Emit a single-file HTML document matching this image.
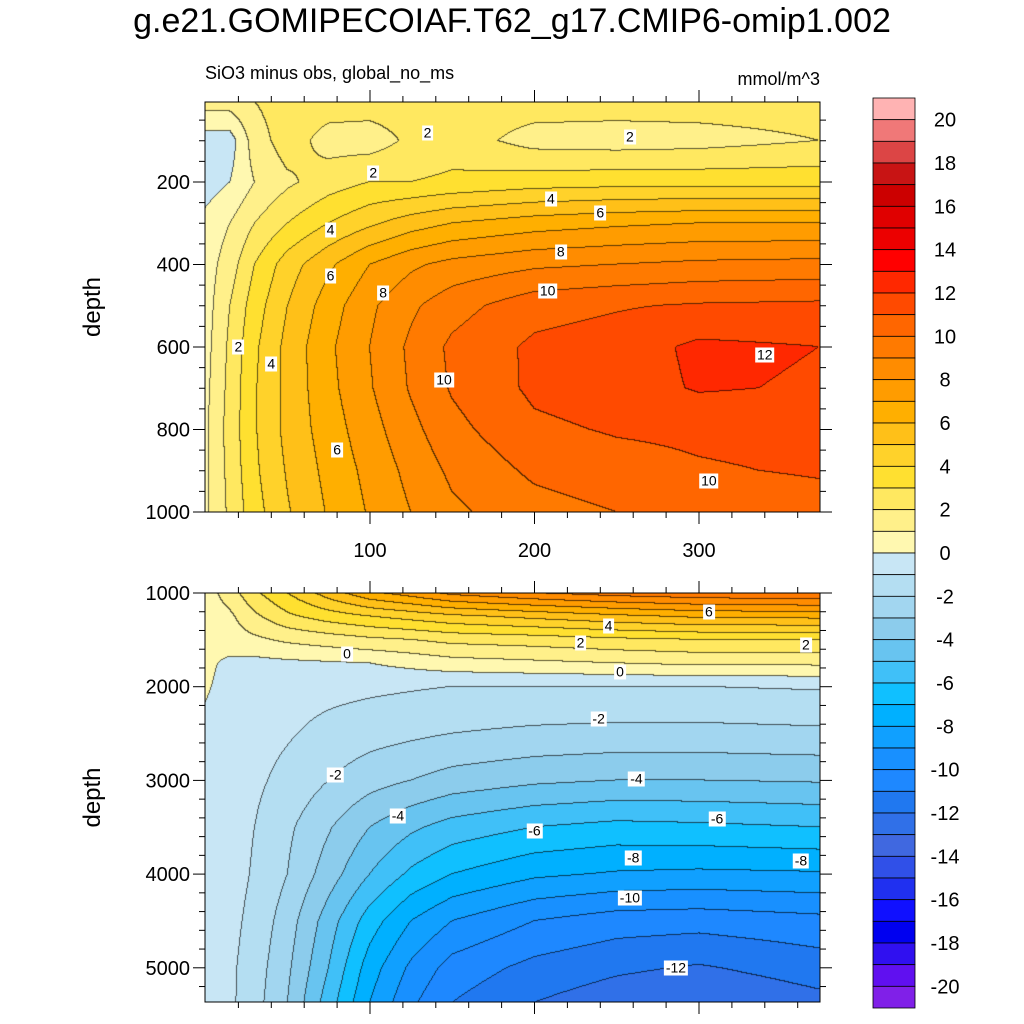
<!DOCTYPE html>
<html><head><meta charset="utf-8">
<style>
html,body{margin:0;padding:0;background:#fff;}
body{width:1024px;height:1024px;position:relative;overflow:hidden;font-family:"Liberation Sans",sans-serif;color:#000;}
.abs{position:absolute;}
.lbl{position:absolute;background:#fff;font-size:14px;padding:0 2px;line-height:15px;transform:translate(-50%,-50%);}
</style></head>
<body>
<div class="abs" style="left:0;width:1024px;top:2px;text-align:center;font-size:34px;">g.e21.GOMIPECOIAF.T62_g17.CMIP6-omip1.002</div>
<div class="abs" style="left:205px;top:63px;font-size:18px;">SiO3 minus obs, global_no_ms</div>
<div class="abs" style="left:700px;width:120px;text-align:right;top:69px;font-size:18px;">mmol/m^3</div>
<canvas id="cv" width="1024" height="1024" class="abs" style="left:0;top:0"></canvas>
<svg id="sv" width="1024" height="1024" class="abs" style="left:0;top:0"></svg>
<div id="labels"></div>
<script>
// ---- data ----
const levels = [-20,-19,-18,-17,-16,-15,-14,-13,-12,-11,-10,-9,-8,-7,-6,-5,-4,-3,-2,-1,0,1,2,3,4,5,6,7,8,9,10,11,12,13,14,15,16,17,18,19,20];
const colors = ["#8020e8","#6010f0","#3010f0","#0000f0","#1010ff","#2030f0","#3050e8","#4068e0","#3070e8","#2078f0","#1e88ff","#1890ff","#10a0ff","#00b0ff","#10c0ff","#40c0f8","#68c4f0","#8cccec","#a2d6f0","#b4def2","#c8e6f5","#fff8b0","#fff08a","#ffe860","#ffe030","#ffd22a","#ffc018","#ffaf00","#ff9c00","#ff8c00","#ff7a00","#ff6600","#ff4a00","#ff2800","#ff0000","#ec0000","#e00000","#cc0000","#c81414","#dc4545","#f07878","#ffb3b3"];
const xs = [0,15,30,50,75,100,125,150,200,250,300,373];
const topDepths = [5,100,200,300,400,500,600,700,800,900,1000];
const topVals = [
 [1.5,1.5,2,2.5,2.5,2.5,2.5,2.5,2.5,2.5,2.5,2.5],
 [-0.5,-0.5,1.5,2.5,1.6,1.5,2.2,2.5,1.6,1.5,1.6,2],
 [-0.5,0,1,1.8,2.5,3,3,3.2,3.5,3.6,3.6,3.6],
 [0.3,1,2,3,4,4.8,5.5,6,6.5,6.8,7,7],
 [0.5,1.5,3,4.5,5.8,7,7.8,8.3,8.8,9,9.2,9.3],
 [0.5,2,3.5,5,6.5,7.8,8.8,9.6,10.6,10.9,11.1,11.2],
 [0.6,2.2,3.8,5.3,6.8,8,9.2,10.2,11.2,11.5,12.2,12],
 [0.7,2.3,3.9,5.3,6.7,7.9,9.1,10.1,11.2,11.5,12.1,11.9],
 [0.8,2.4,3.9,5.3,6.5,7.6,8.7,9.7,10.8,11.1,11.2,11.3],
 [0.8,2.3,3.8,5.1,6.3,7.3,8.3,9.2,10.2,10.6,10.9,11.1],
 [0.8,2.2,3.6,4.9,6.1,7.1,8.0,8.8,9.6,10,10.3,10.6]];
const botDepths = [1000,1250,1500,1750,2000,2500,3000,3500,4000,4500,5000,5370];
const botVals = [
 [0.5,1.5,2.8,4,5.5,6.8,7.5,8.3,9,9.5,9.8,10],
 [0.3,0.8,1.8,2.8,3.5,4,4.4,4.8,5.3,5.8,6.2,6.3],
 [0.2,0.5,0.8,1.2,1.5,1.8,2,2.3,2.5,2.8,3,3],
 [0.2,-0.2,-0.3,-0.2,-0.1,0,0.3,0.6,0.8,1,1.2,1.2],
 [0.1,-0.3,-0.5,-0.6,-0.7,-0.8,-0.9,-1,-1,-1,-1,-0.9],
 [-0.2,-0.4,-0.6,-0.9,-1.3,-1.6,-1.8,-2,-2.2,-2.3,-2.3,-2.2],
 [-0.3,-0.5,-0.8,-1.3,-2,-2.6,-3,-3.4,-3.8,-4,-4,-3.9],
 [-0.3,-0.6,-1,-1.8,-2.9,-4,-4.8,-5.4,-6,-6.3,-6.2,-6],
 [-0.3,-0.6,-1.1,-2,-3.5,-5,-6.2,-7,-7.8,-8.1,-8.2,-8.1],
 [-0.4,-0.7,-1.3,-2.5,-4.5,-6.5,-8,-9,-10,-10.5,-10.6,-10.3],
 [-0.5,-0.8,-1.5,-2.8,-5,-7.5,-9.2,-10.4,-11.3,-11.8,-12.1,-11.5],
 [-0.5,-0.8,-1.6,-3,-5.5,-8,-9.8,-11,-12,-12.6,-13,-12.3]];
const xTicks = [100,200,300];
const topYTicks = [200,400,600,800,1000];
const botYTicks = [1000,2000,3000,4000,5000];
const cbLabels = [20,18,16,14,12,10,8,6,4,2,0,-2,-4,-6,-8,-10,-12,-14,-16,-18,-20];
const topLabels = [[20,600,"2"],[40,640,"4"],[80,850,"6"],[145,680,"10"],[76,317,"4"],[76,427,"6"],[108,468,"8"],[102,178,"2"],[210,240,"4"],[240,275,"6"],[216,370,"8"],[208,465,"10"],[135,80,"2"],[258,90,"2"],[340,620,"12"],[306,925,"10"]];
const botLabels = [[306,1200,"6"],[245,1350,"4"],[228,1530,"2"],[365,1550,"2"],[86,1650,"0"],[252,1840,"0"],[239,2350,"-2"],[79,2940,"-2"],[117,3380,"-4"],[262,2990,"-4"],[200,3540,"-6"],[311,3410,"-6"],[260,3830,"-8"],[362,3860,"-8"],[258,4260,"-10"],[286,5000,"-12"]];

// ---- axes ----
const X0=205.5, XS=1.645, PL=205, PR=820;
const xp = v => X0 + v*XS;
const yTop = d => 99.5 + d*0.4125;
const yBot = d => 593 + (d-1000)*0.0937;
const panels = [
 {top:102,bot:512,depths:topDepths,vals:topVals,yf:yTop,inv:y=>(y-99.5)/0.4125,yt:topYTicks,minor:50,dmin:5,dmax:1000,lab:topLabels},
 {top:593,bot:1002,depths:botDepths,vals:botVals,yf:yBot,inv:y=>(y-593)/0.0937+1000,yt:botYTicks,minor:200,dmin:1000,dmax:5370,lab:botLabels}];

function interp(p,x,d){
  let i=0; while(i<xs.length-2 && x>xs[i+1]) i++;
  let j=0; while(j<p.depths.length-2 && d>p.depths[j+1]) j++;
  let tx=Math.min(1,Math.max(0,(x-xs[i])/(xs[i+1]-xs[i])));
  let ty=Math.min(1,Math.max(0,(d-p.depths[j])/(p.depths[j+1]-p.depths[j])));
  const v=p.vals;
  return (v[j][i]*(1-tx)+v[j][i+1]*tx)*(1-ty)+(v[j+1][i]*(1-tx)+v[j+1][i+1]*tx)*ty;
}
function bin(v){ let k=0; while(k<levels.length && v>=levels[k]) k++; return k; }
function hex(c){return [parseInt(c.substr(1,2),16),parseInt(c.substr(3,2),16),parseInt(c.substr(5,2),16)];}
const rgb = colors.map(hex);

const cv=document.getElementById('cv'), ctx=cv.getContext('2d');
const img=ctx.createImageData(1024,1024);
panels.forEach(p=>{
  const W=PR-PL, H=p.bot-p.top;
  const B=[];
  for(let y=0;y<H;y++){ B.push([]);
    const d=p.inv(p.top+y+0.5);
    for(let x=0;x<W;x++){ const xv=(PL+x+0.5-X0)/XS; B[y].push(bin(interp(p,xv,d))); } }
  for(let y=0;y<H;y++) for(let x=0;x<W;x++){
    let c=rgb[B[y][x]];
    const edge=(x+1<W&&B[y][x+1]!==B[y][x])||(y+1<H&&B[y+1][x]!==B[y][x]);
    if(edge) c=[Math.round(c[0]*0.35),Math.round(c[1]*0.35),Math.round(c[2]*0.35)];
    const o=((p.top+y)*1024+PL+x)*4;
    img.data[o]=c[0];img.data[o+1]=c[1];img.data[o+2]=c[2];img.data[o+3]=255;
  }
});
ctx.putImageData(img,0,0);

const NS="http://www.w3.org/2000/svg", sv=document.getElementById('sv');
function el(tag,attrs,txt){const e=document.createElementNS(NS,tag);for(const k in attrs)e.setAttribute(k,attrs[k]);if(txt!==undefined)e.textContent=txt;sv.appendChild(e);return e;}
function line(x1,y1,x2,y2,w){const e=el('line',{x1,y1,x2,y2,stroke:'#000','stroke-width':w||1});
  
  }
panels.forEach((p,pi)=>{
  const r=el('rect',{x:PL,y:p.top,width:PR-PL,height:p.bot-p.top,fill:'none',stroke:'#000','stroke-width':1});
  
  
  for(let v=20;v<373;v+=20){const x=xp(v), L=(v%100===0)?12:6;
    line(x,p.bot,x,p.bot+L); line(x,p.top,x,p.top-L);}
  for(let d=Math.ceil(p.dmin/p.minor)*p.minor; d<=p.dmax; d+=p.minor){const y=p.yf(d);
    if(y<p.top-0.5||y>p.bot+0.5) continue;
    const L=p.yt.includes(d)?12:6; line(PL,y,PL-L,y); line(PR,y,PR+L,y);}
  p.yt.forEach(d=>{const t=el('text',{x:PL-15,y:p.yf(d)+7,'text-anchor':'end','font-size':20,'font-family':'Liberation Sans'},String(d));
    
    });
  const t=el('text',{x:0,y:0,transform:`translate(100,${(p.top+p.bot)/2}) rotate(-90)`,'text-anchor':'middle','font-size':24,'font-family':'Liberation Sans'},'depth');
  
  
  const lay=document.getElementById('labels');
  p.lab.forEach(l=>{const d=document.createElement('div');d.className='lbl';
    
    
    d.style.left=xp(l[0])+'px';d.style.top=p.yf(l[1])+'px';d.textContent=l[2];lay.appendChild(d);});
});
xTicks.forEach(v=>{const t=el('text',{x:xp(v),y:557,'text-anchor':'middle','font-size':20,'font-family':'Liberation Sans'},String(v));
  
  });
// colorbar
const CBT=98, CBH=910/42;
colors.slice().reverse().forEach((c,i)=>{const r=el('rect',{x:873,y:CBT+i*CBH,width:42,height:CBH,fill:c,stroke:'#000','stroke-width':0.8});
  
  });
cbLabels.forEach(v=>{const i=(20-v)+1;const t=el('text',{x:945,y:CBT+i*CBH+7,'text-anchor':'middle','font-size':20,'font-family':'Liberation Sans'},String(v));
  
  });
</script>
</body></html>
